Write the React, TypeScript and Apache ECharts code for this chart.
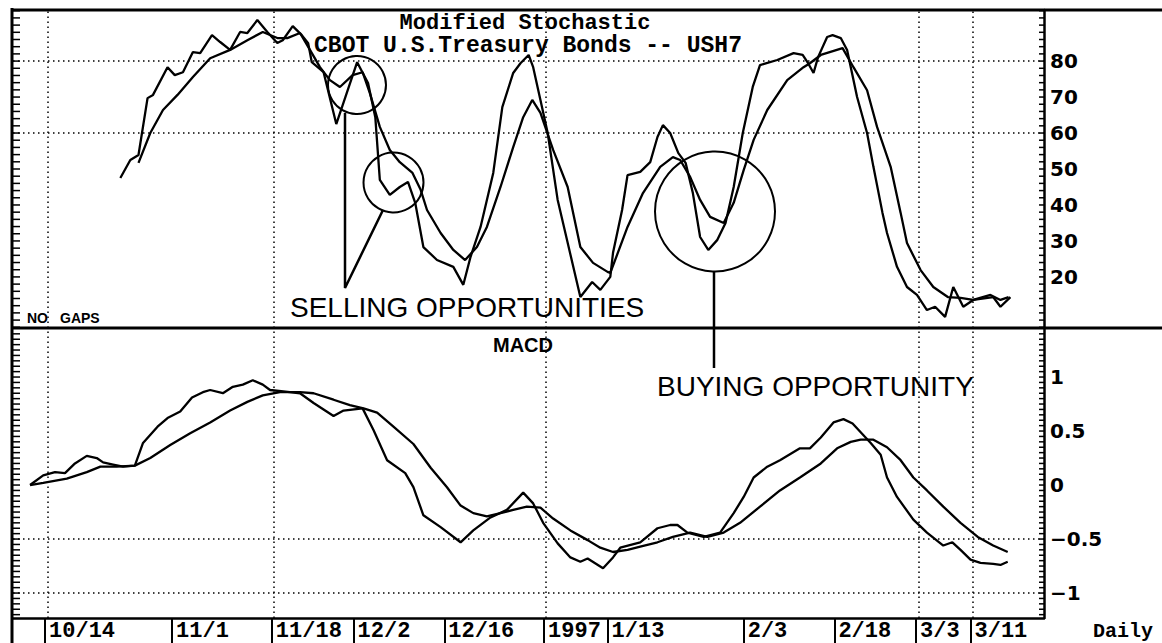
import React, { useEffect, useRef } from "react";
import * as echarts from "echarts";

// ---- x axis (trading-day index, 10/14 = 0) ----
const dateLabels = ["10/14", "11/1", "11/18", "12/2", "12/16", "1997", "1/13", "2/3", "2/18", "3/3", "3/11"];
const dateDays = [0, 14, 25, 34, 44, 55, 62, 77, 87, 96, 102];
const gridDays = [0.3, 25.2, 55.2, 96.3, 102.3];
const dayMin = -3.53;
const dayMax = 110.1;

// ---- Modified Stochastic ----
const stochLabels = [20, 30, 40, 50, 60, 70, 80];
const stochGrid = [80, 60];
const stochK: [number, number][] = [
  [8.3, 47.5], [9.4, 52.5], [10.3, 53.9], [11.3, 69.7], [11.9, 70.6], [13.5, 78.3], [14.3, 76.1],
  [15.2, 76.9], [16.3, 82.5], [17.1, 82.2], [18.4, 87.2], [19.3, 85.3], [20.4, 83.1], [21.5, 88.1],
  [22.3, 87.8], [23.4, 91.4], [24.5, 88.1], [25.6, 85.0], [26.2, 85.8], [27.3, 89.7], [28.3, 87.2],
  [29.0, 85.0], [29.4, 79.7], [30.7, 76.9], [32.1, 62.5], [34.4, 79.7], [35.6, 73.9], [36.4, 64.4],
  [36.9, 47.0], [38.0, 42.8], [39.1, 45.0], [40.0, 46.4], [40.8, 40.6], [41.7, 28.3], [43.2, 24.7],
  [45.0, 22.8], [46.1, 17.8], [46.9, 25.6], [48.0, 33.9], [49.4, 48.9], [50.4, 67.2], [51.6, 76.7],
  [52.4, 79.4], [53.3, 81.7], [53.8, 78.3], [54.6, 69.2], [55.4, 60.0], [56.5, 41.4], [59.0, 14.4],
  [60.3, 18.6], [61.2, 16.4], [62.3, 20.0], [62.6, 26.7], [63.6, 38.6], [64.2, 48.3], [65.6, 49.2],
  [66.7, 51.9], [67.5, 58.9], [68.1, 62.2], [68.9, 60.0], [69.8, 54.4], [70.6, 51.7], [71.4, 43.3],
  [72.2, 31.1], [73.1, 27.5], [74.1, 30.3], [75.0, 35.0], [75.9, 45.0], [76.9, 60.0], [78.0, 72.8],
  [78.8, 78.9], [80.7, 80.3], [82.5, 82.2], [83.5, 81.7], [84.1, 79.4], [84.7, 76.7], [85.2, 81.1],
  [86.2, 86.7], [86.8, 87.2], [87.7, 86.4], [88.4, 83.1], [89.5, 70.0], [90.6, 60.0], [91.3, 50.6],
  [92.3, 37.8], [92.8, 32.2], [93.9, 22.8], [95.0, 17.2], [96.1, 15.0], [97.2, 10.8], [98.1, 11.7],
  [99.2, 8.9], [100.1, 17.2], [101.2, 11.7], [102.3, 13.6], [103.9, 14.2], [104.5, 14.4],
  [105.3, 11.7], [106.4, 14.4],
];
const stochD: [number, number][] = [
  [10.3, 51.7], [11.6, 60.0], [13.0, 66.4], [14.6, 70.6], [16.3, 75.6], [18.2, 80.8], [20.4, 83.1],
  [22.3, 85.8], [24.0, 88.1], [25.6, 86.4], [26.7, 86.4], [28.1, 87.8], [29.2, 83.1], [30.3, 78.3],
  [31.4, 74.7], [32.5, 72.8], [33.9, 76.1], [35.0, 76.9], [35.8, 71.1], [36.9, 61.7], [38.0, 55.3],
  [39.1, 51.9], [40.5, 48.9], [41.4, 44.2], [42.1, 38.6], [43.6, 32.2], [45.0, 27.5], [46.3, 24.7],
  [47.6, 28.3], [48.7, 33.9], [50.2, 45.0], [51.6, 56.1], [52.7, 64.4], [53.7, 69.2], [54.6, 65.6],
  [56.0, 55.3], [57.6, 45.0], [59.0, 28.3], [60.4, 23.9], [62.0, 21.4], [62.3, 21.1], [64.2, 33.9],
  [65.9, 43.3], [67.8, 50.6], [69.2, 53.3], [70.0, 52.5], [71.1, 47.8], [72.2, 41.4], [73.3, 36.7],
  [74.8, 35.0], [75.9, 40.6], [77.0, 49.7], [78.1, 58.1], [79.6, 66.4], [81.8, 74.7], [83.6, 78.3],
  [84.3, 79.4], [85.5, 81.7], [87.9, 83.6], [89.1, 78.3], [90.6, 71.9], [91.7, 61.7], [93.2, 50.6],
  [94.3, 37.8], [95.0, 29.4], [96.5, 21.9], [97.9, 17.2], [99.5, 14.4], [100.9, 14.2], [102.3, 13.6],
  [104.2, 15.0], [105.3, 13.6], [106.2, 14.4],
];

// ---- MACD ----
const macdLabels = [-1, -0.5, 0, 0.5, 1];
const macdGrid = [-0.5, -1];
const macdLine: [number, number][] = [
  [-1.65, 0], [-0.2, 0.09], [1.1, 0.12], [2.2, 0.11], [3.3, 0.2], [4.6, 0.27], [5.7, 0.25],
  [6.4, 0.21], [7.5, 0.19], [8.6, 0.17], [9.9, 0.18], [10.8, 0.39], [12.4, 0.54], [13.5, 0.62],
  [14.9, 0.68], [16.2, 0.81], [17.4, 0.86], [18.2, 0.88], [19.6, 0.85], [20.7, 0.91], [21.8, 0.93],
  [22.9, 0.97], [24.0, 0.93], [24.8, 0.88], [27.0, 0.86], [28.1, 0.85], [29.6, 0.76], [31.8, 0.64],
  [32.9, 0.69], [35.0, 0.71], [36.2, 0.51], [37.7, 0.23], [39.7, 0.11], [40.6, -0.02], [41.7, -0.28],
  [43.6, -0.39], [45.8, -0.53], [47.2, -0.42], [49.1, -0.3], [50.9, -0.23], [52.7, -0.07],
  [53.8, -0.17], [54.9, -0.35], [56.5, -0.54], [57.9, -0.67], [59.0, -0.71], [59.8, -0.68],
  [61.5, -0.77], [62.6, -0.67], [63.4, -0.58], [65.6, -0.53], [67.5, -0.4], [68.9, -0.37],
  [69.7, -0.37], [70.8, -0.44], [72.6, -0.48], [74.4, -0.44], [75.9, -0.26], [77.0, -0.11],
  [78.1, 0.07], [79.6, 0.17], [81.0, 0.23], [83.2, 0.34], [84.3, 0.34], [85.5, 0.44], [86.9, 0.58],
  [88.0, 0.61], [89.0, 0.57], [91.0, 0.39], [92.1, 0.28], [92.8, 0.07], [93.9, -0.11], [95.7, -0.32],
  [97.2, -0.44], [99.0, -0.56], [100.0, -0.53], [100.9, -0.6], [102.0, -0.69], [103.1, -0.72],
  [104.5, -0.73], [105.3, -0.74], [106.1, -0.71],
];
const macdSignal: [number, number][] = [
  [-1.65, 0], [-0.2, 0.02], [2.4, 0.06], [4.6, 0.12], [6.1, 0.17], [7.9, 0.17], [9.9, 0.18],
  [11.6, 0.25], [13.8, 0.37], [16.0, 0.48], [18.2, 0.58], [20.4, 0.69], [22.3, 0.77], [24.0, 0.83],
  [25.9, 0.86], [28.1, 0.86], [29.6, 0.85], [31.8, 0.79], [33.6, 0.74], [35.1, 0.71], [36.6, 0.67],
  [38.4, 0.54], [40.6, 0.38], [42.5, 0.16], [44.3, -0.02], [45.8, -0.19], [47.2, -0.26],
  [48.7, -0.29], [50.2, -0.26], [51.6, -0.23], [53.1, -0.2], [54.6, -0.21], [56.0, -0.31],
  [57.9, -0.42], [59.8, -0.51], [61.2, -0.58], [62.6, -0.62], [64.2, -0.6], [65.6, -0.57],
  [67.5, -0.53], [69.2, -0.48], [71.1, -0.44], [73.0, -0.48], [74.8, -0.44], [76.6, -0.35],
  [78.8, -0.2], [81.0, -0.05], [83.2, 0.07], [85.5, 0.2], [87.3, 0.34], [88.8, 0.4], [89.9, 0.42],
  [91.3, 0.42], [92.8, 0.35], [94.3, 0.23], [95.7, 0.07], [97.2, -0.05], [99.0, -0.2], [100.9, -0.35],
  [102.8, -0.48], [104.5, -0.56], [106.1, -0.62],
];

const BLACK = "#000";
const upperMin = 5.8, upperMax = 94.2;
const lowerMin = -1.231, lowerMax = 1.454;

// ruler tick values along both panel edges (axis decoration, not data)
const upperRuler: number[] = [];
for (let v = 6; v <= 94; v += 2) upperRuler.push(v);
const lowerRuler: number[] = [];
for (let k = -24; k <= 28; k++) lowerRuler.push(k * 0.05);

const fmtMacd = (v: number) => (v < 0 ? "\u2212" + Math.abs(v) : String(v));

const dotted = { color: BLACK, width: 1.5, type: [1.5, 3.5] as any };
const lineStyle = { color: BLACK, width: 2.3 };

const baseGraphic: any[] = [
  // frame
  { type: "line", shape: { x1: 13, y1: 10, x2: 1162, y2: 10 }, style: { stroke: BLACK, lineWidth: 3 } },
  { type: "line", shape: { x1: 13, y1: 328, x2: 1162, y2: 328 }, style: { stroke: BLACK, lineWidth: 3 } },
  { type: "line", shape: { x1: 12, y1: 8, x2: 12, y2: 643 }, style: { stroke: BLACK, lineWidth: 3 } },
  // titles
  {
    type: "text", x: 525, y: 23,
    style: { text: "Modified Stochastic", fill: BLACK, font: 'bold 22px "Liberation Mono"', align: "center", verticalAlign: "middle" },
  },
  {
    type: "text", x: 528, y: 46,
    style: { text: "CBOT U.S.Treasury Bonds -- USH7", fill: BLACK, font: 'bold 23px "Liberation Mono"', align: "center", verticalAlign: "middle" },
  },
  {
    type: "text", x: 523, y: 345,
    style: { text: "MACD", fill: BLACK, font: 'bold 20px "Liberation Sans"', align: "center", verticalAlign: "middle" },
  },
  {
    type: "text", x: 27, y: 318,
    style: { text: "NO", fill: BLACK, font: 'bold 14px "Liberation Sans"', align: "left", verticalAlign: "middle" },
  },
  {
    type: "text", x: 60, y: 318,
    style: { text: "GAPS", fill: BLACK, font: 'bold 14px "Liberation Sans"', align: "left", verticalAlign: "middle" },
  },
  {
    type: "text", x: 1093, y: 631,
    style: { text: "Daily", fill: BLACK, font: 'bold 20px "Liberation Mono"', align: "left", verticalAlign: "middle" },
  },
  // annotations
  { type: "circle", shape: { cx: 357, cy: 85, r: 29 }, style: { fill: "none", stroke: BLACK, lineWidth: 2 } },
  { type: "circle", shape: { cx: 393.5, cy: 182.5, r: 30 }, style: { fill: "none", stroke: BLACK, lineWidth: 2 } },
  { type: "circle", shape: { cx: 715, cy: 211.5, r: 60 }, style: { fill: "none", stroke: BLACK, lineWidth: 2 } },
  {
    type: "polyline",
    shape: { points: [[345, 113], [345, 288], [383, 210]] },
    style: { fill: "none", stroke: BLACK, lineWidth: 2.5 },
  },
  { type: "line", shape: { x1: 714, y1: 271, x2: 714, y2: 368 }, style: { stroke: BLACK, lineWidth: 2.5 } },
  {
    type: "text", x: 290, y: 307,
    style: { text: "SELLING OPPORTUNITIES", fill: BLACK, font: '28px "Liberation Sans"', align: "left", verticalAlign: "middle" },
  },
  {
    type: "text", x: 657, y: 386,
    style: { text: "BUYING OPPORTUNITY", fill: BLACK, font: '28px "Liberation Sans"', align: "left", verticalAlign: "middle" },
  },
];

function buildOption(): any {
  const tickLabelStyle = {
    color: BLACK,
    fontFamily: "DejaVu Sans",
    fontWeight: "bold",
    fontSize: 20,
  };
  const labelAxis = (grid: number, min: number, max: number, labels: number[], fmt?: (v: number) => string) => ({
    type: "value",
    gridIndex: grid,
    position: "right",
    min,
    max,
    axisLine: { show: true, onZero: false, lineStyle: { color: BLACK, width: 2.5 } },
    axisTick: { show: false },
    axisLabel: { show: true, customValues: labels, formatter: fmt, margin: 6, ...tickLabelStyle },
    splitLine: { show: false },
  });
  return {
    animation: false,
    backgroundColor: "#fff",
    grid: [
      { left: 13, right: 118, top: 10, height: 318 },
      { left: 13, right: 118, top: 328, height: 290 },
    ],
    xAxis: [
      { type: "value", gridIndex: 0, min: dayMin, max: dayMax, show: false, axisLine: { onZero: false } },
      {
        type: "value",
        gridIndex: 1,
        position: "bottom",
        min: dayMin,
        max: dayMax,
        axisLine: { show: true, onZero: false, lineStyle: { color: BLACK, width: 2.5 } },
        axisTick: {
          show: true,
          customValues: dateDays,
          length: 25,
          inside: false,
          lineStyle: { color: BLACK, width: 2 },
        },
        axisLabel: {
          show: true,
          customValues: dateDays,
          formatter: (v: number) => {
            const i = dateDays.indexOf(v);
            return i >= 0 ? dateLabels[i] : "";
          },
          align: "left",
          verticalAlign: "middle",
          padding: [0, 0, 0, 4],
          margin: 13,
          color: BLACK,
          fontFamily: "Liberation Mono",
          fontWeight: "bold",
          fontSize: 22,
        },
        splitLine: { show: false },
      },
    ],
    yAxis: [
      labelAxis(0, upperMin, upperMax, stochLabels),
      labelAxis(1, lowerMin, lowerMax, macdLabels, fmtMacd),
    ],
    series: [
      {
        name: "Stoch K",
        type: "line",
        xAxisIndex: 0,
        yAxisIndex: 0,
        data: stochK,
        symbol: "none",
        lineStyle,
        markLine: {
          silent: true,
          symbol: ["none", "none"],
          label: { show: false },
          lineStyle: dotted,
          data: [...stochGrid.map((v) => ({ yAxis: v })), ...gridDays.map((d) => ({ xAxis: d }))],
        },
      },
      { name: "Stoch D", type: "line", xAxisIndex: 0, yAxisIndex: 0, data: stochD, symbol: "none", lineStyle },
      {
        name: "MACD",
        type: "line",
        xAxisIndex: 1,
        yAxisIndex: 1,
        data: macdLine,
        symbol: "none",
        lineStyle,
        markLine: {
          silent: true,
          symbol: ["none", "none"],
          label: { show: false },
          lineStyle: dotted,
          data: [...macdGrid.map((v) => ({ yAxis: v })), ...gridDays.map((d) => ({ xAxis: d }))],
        },
      },
      { name: "Signal", type: "line", xAxisIndex: 1, yAxisIndex: 1, data: macdSignal, symbol: "none", lineStyle },
    ],
    graphic: baseGraphic,
  };
}

// ruler ticks placed through the chart's own scales
function rulerGraphic(chart: echarts.ECharts): any[] {
  const out: any[] = [];
  const add = (axisIdx: number, values: number[]) => {
    values.forEach((v) => {
      const l = chart.convertToPixel({ xAxisIndex: axisIdx, yAxisIndex: axisIdx }, [dayMin, v]) as number[];
      const r = chart.convertToPixel({ xAxisIndex: axisIdx, yAxisIndex: axisIdx }, [dayMax, v]) as number[];
      if (!l || !r) return;
      out.push({ type: "line", shape: { x1: l[0], y1: l[1], x2: l[0] + 7, y2: l[1] }, style: { stroke: BLACK, lineWidth: 1.5 } });
      out.push({ type: "line", shape: { x1: r[0] - 5, y1: r[1], x2: r[0], y2: r[1] }, style: { stroke: BLACK, lineWidth: 1.5 } });
    });
  };
  add(0, upperRuler);
  add(1, lowerRuler);
  return out;
}

export default function App() {
  const ref = useRef<HTMLDivElement>(null);
  useEffect(() => {
    document.body.style.margin = "0";
    const chart = echarts.init(ref.current!, null, { renderer: "svg" });
    chart.setOption(buildOption());
    try {
      const ticks = rulerGraphic(chart);
      chart.setOption({ graphic: [...baseGraphic, ...ticks] });
    } catch (e) {
      // keep the chart without ruler ticks if conversion fails
    }
    return () => chart.dispose();
  }, []);
  return (
    <div
      ref={ref}
      style={{ position: "fixed", left: 0, top: 0, width: 1162, height: 643, background: "#fff" }}
    />
  );
}
